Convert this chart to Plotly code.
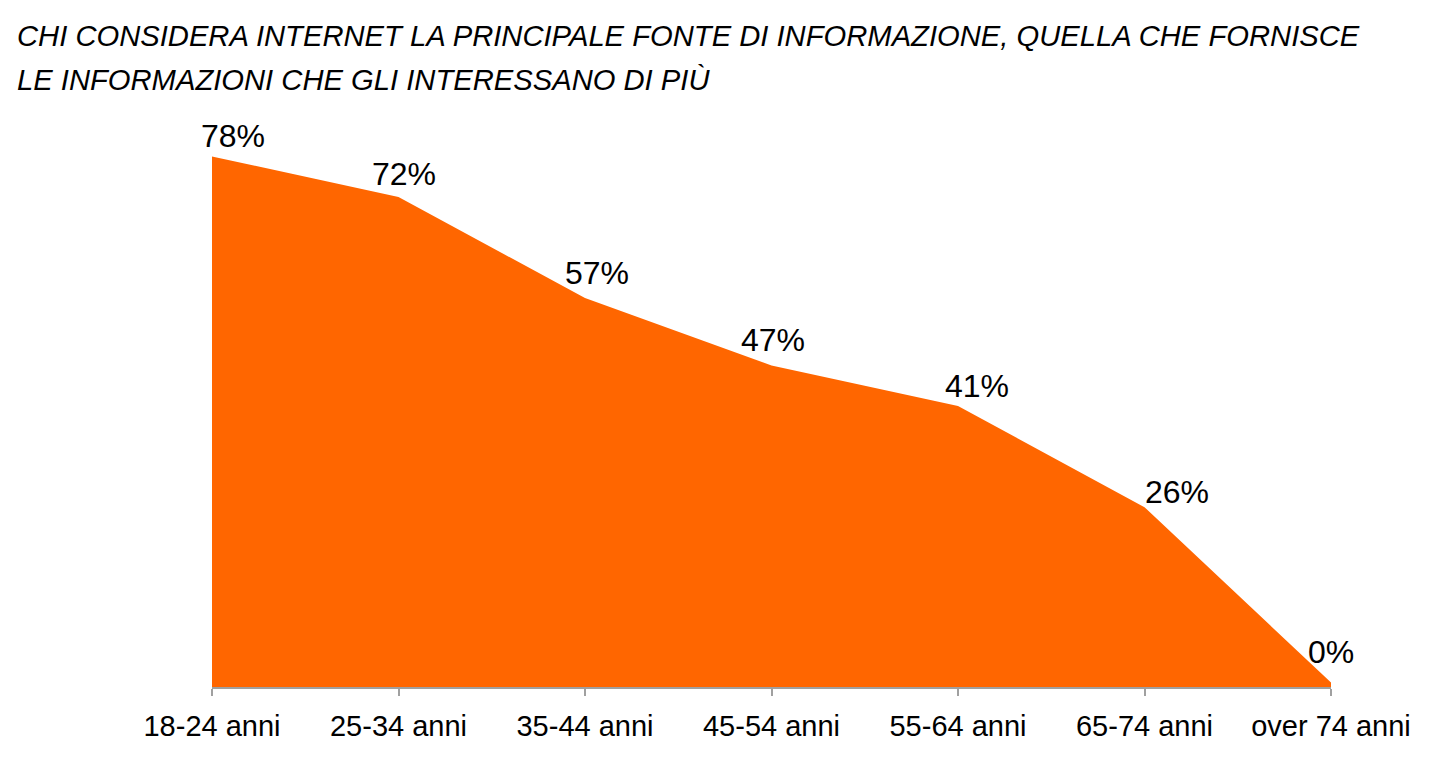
import plotly.graph_objects as go

# ---- data ----
categories = ["18-24 anni", "25-34 anni", "35-44 anni", "45-54 anni",
              "55-64 anni", "65-74 anni", "over 74 anni"]
values = [78, 72, 57, 47, 41, 26, 0]
labels = ["78%", "72%", "57%", "47%", "41%", "26%", "0%"]
title_lines = ["CHI CONSIDERA INTERNET LA PRINCIPALE FONTE DI INFORMAZIONE, QUELLA CHE FORNISCE",
               "LE INFORMAZIONI CHE GLI INTERESSANO DI PIÙ"]

# ---- style ----
ORANGE = "#FF6600"
Y_MIN, Y_MAX = -0.667, 80
label_xshift = [21, 5, 12, 1, 19, 32, 0]
label_gap = [8, 11, 13, 14, 8, 3, 19]
FONT = "Liberation Sans, Arial, sans-serif"
W, H = 1429, 776
M_L, M_R, M_T, M_B = 212, 98, 142.5, 89
title_centers_px = [35, 79]

fig = go.Figure()
# invisible baseline at the bottom of the value axis
fig.add_trace(go.Scatter(x=categories, y=[Y_MIN] * len(categories), mode="lines",
                         line=dict(width=0, color=ORANGE), hoverinfo="skip",
                         showlegend=False))
fig.add_trace(go.Scatter(x=categories, y=values, mode="lines", fill="tonexty",
                         fillcolor=ORANGE, line=dict(width=0, color=ORANGE),
                         showlegend=False))

for c, v, t, dx, g in zip(categories, values, labels, label_xshift, label_gap):
    fig.add_annotation(x=c, y=v, text=t, showarrow=False, xanchor="center",
                       yanchor="bottom", xshift=dx, yshift=g - 8,
                       font=dict(family=FONT, size=32, color="#000000"))

plot_w = W - M_L - M_R
plot_h = H - M_T - M_B
for line, cy in zip(title_lines, title_centers_px):
    fig.add_annotation(text=line, xref="paper", yref="paper",
                       x=(15 - M_L) / plot_w, xanchor="left",
                       y=(H - M_B - cy) / plot_h, yanchor="middle",
                       showarrow=False,
                       font=dict(family=FONT, size=29.2, color="#000000", style="italic"))

fig.update_layout(
    width=W, height=H,
    margin=dict(l=M_L, r=M_R, t=M_T, b=M_B),
    paper_bgcolor="white", plot_bgcolor="white",
    xaxis=dict(type="category", range=[0, len(categories) - 1], showgrid=False,
               showline=True, linecolor="#A0A0A0", linewidth=1.5,
               ticks="outside", ticklen=7, tickcolor="#A0A0A0", tickwidth=1.5,
               ticklabelstandoff=5,
               tickfont=dict(family=FONT, size=29, color="#000000"),
               zeroline=False),
    yaxis=dict(range=[Y_MIN, Y_MAX], visible=False, showgrid=False, zeroline=False),
)

fig.write_html("out.html", config={"displayModeBar": False},
               post_script="document.body.style.margin='0';")
